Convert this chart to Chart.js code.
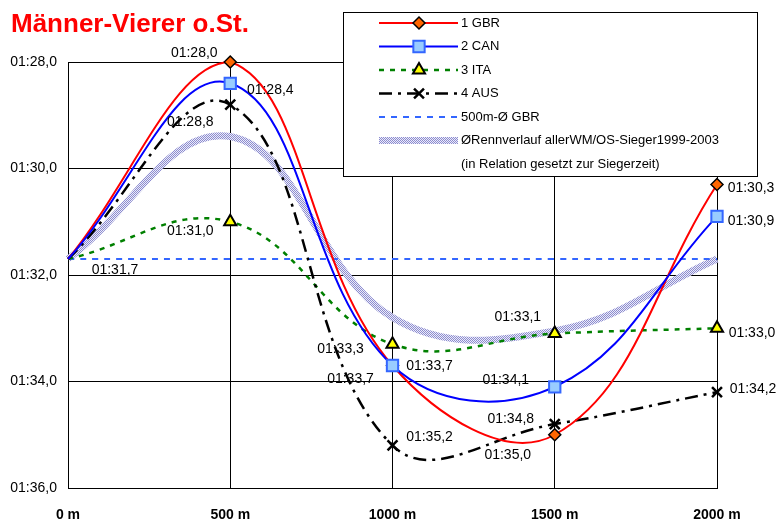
<!DOCTYPE html>
<html>
<head>
<meta charset="utf-8">
<script src="https://cdn.jsdelivr.net/npm/chart.js@4/dist/chart.umd.min.js"></script>
<style>
  html, body { margin: 0; padding: 0; background: #fff; }
  #wrap { width: 778px; height: 523px; }
</style>
</head>
<body>
<div id="wrap"><canvas id="c" width="778" height="523"></canvas></div>
<script>
// Zwischenzeiten (Sekunden pro 500 m)
const distances = ['0 m', '500 m', '1000 m', '1500 m', '2000 m'];
const gbr = [91.7, 88.0, 93.7, 95.0, 90.3];
const can = [91.7, 88.4, 93.7, 94.1, 90.9];
const ita = [91.7, 91.0, 93.3, 93.1, 93.0];
const aus = [91.7, 88.8, 95.2, 94.8, 94.2];
const gbrAvg500 = [91.7, 91.7, 91.7, 91.7, 91.7];
const winnersAvg = [91.7, 89.4, 92.8, 93.05, 91.7];
const yTicks = [88, 90, 92, 94, 96];

const FONT = '"Liberation Sans", Arial, sans-serif';

// label offsets (px, from the point) per dataset
const labelOffsets = [
  [null, [40, 7], [37, 1], [-49, -7], [34, 5]],      // CAN
  [null, [-36, -9], [-42, 14], [-47, 20], [34, 4]],  // GBR
  [null, [-40, 9], [-52, 5], [-37, -16], [35, 5]],   // ITA
  [null, [-40, 18], [37, -8], [-44, -5], [36, -3]],  // AUS
  [[47, 11], null, null, null, null],               // 500m-Ø GBR
  [null, null, null, null, null]                     // Rennverlauf
];

function fmtTime(v) {
  const m = Math.floor(v / 60);
  const s = (v - m * 60).toFixed(1).padStart(4, '0').replace('.', ',');
  return '0' + m + ':' + s;
}

// hatched band like the Excel pattern line
function makeHatch() {
  const p = document.createElement('canvas');
  p.width = 2; p.height = 2;
  const pc = p.getContext('2d');
  pc.fillStyle = '#ececf8';
  pc.fillRect(0, 0, 2, 2);
  pc.fillStyle = '#8c8cd0';
  pc.fillRect(0, 0, 1, 1);
  pc.fillRect(1, 1, 1, 1);
  return pc.createPattern(p, 'repeat');
}
const hatch = makeHatch();

const noFirst = r => ctx => ctx.dataIndex === 0 ? 0 : r;

const datasets = [
  { label: '2 CAN', data: can, order: 0, borderColor: '#0000ff', borderWidth: 2,
    pointStyle: 'rect', pointRadius: noFirst(8), pointBackgroundColor: '#99ccff',
    pointBorderColor: '#3366ff', pointBorderWidth: 2 },
  { label: '1 GBR', data: gbr, order: 1, borderColor: '#ff0000', borderWidth: 2,
    pointStyle: 'rectRot', pointRadius: noFirst(6), pointBackgroundColor: '#ff6600',
    pointBorderColor: '#000', pointBorderWidth: 1.5 },
  { label: '3 ITA', data: ita, order: 3, borderColor: '#008000', borderWidth: 2.5, borderDash: [5, 6],
    pointStyle: 'triangle', pointRadius: noFirst(7), pointBackgroundColor: '#ffff00',
    pointBorderColor: '#000', pointBorderWidth: 2 },
  { label: '4 AUS', data: aus, order: 2, borderColor: '#000', borderWidth: 2.5, borderDash: [13, 6, 3, 6],
    pointStyle: 'crossRot', pointRadius: noFirst(7), pointBorderColor: '#000', pointBorderWidth: 2.5 },
  { label: '500m-Ø GBR', data: gbrAvg500, order: 4, borderColor: '#3366ff', borderWidth: 2, borderDash: [6, 6],
    pointRadius: 0 },
  { label: 'ØRennverlauf allerWM/OS-Sieger1999-2003', data: winnersAvg, order: 5,
    borderColor: hatch, borderWidth: 7, pointRadius: 0 }
];

const labelsPlugin = {
  id: 'pointLabels',
  afterDatasetsDraw(chart) {
    const ctx = chart.ctx;
    ctx.save();
    ctx.font = '14px ' + FONT;
    ctx.fillStyle = '#000';
    ctx.textAlign = 'center';
    ctx.textBaseline = 'middle';
    chart.data.datasets.forEach((ds, i) => {
      const meta = chart.getDatasetMeta(i);
      meta.data.forEach((pt, j) => {
        const off = labelOffsets[i][j];
        if (!off) return;
        ctx.fillText(fmtTime(ds.data[j]), pt.x + off[0], pt.y + off[1]);
      });
    });
    ctx.restore();
  }
};

const legendPlugin = {
  id: 'boxLegend',
  afterDraw(chart) {
    const ctx = chart.ctx;
    const bx = 343, by = 12, bw = 414, bh = 164;
    ctx.save();
    ctx.fillStyle = '#fff';
    ctx.fillRect(bx, by, bw, bh);
    ctx.strokeStyle = '#000';
    ctx.lineWidth = 1;
    ctx.strokeRect(bx + 0.5, by + 0.5, bw, bh);

    const order = [1, 0, 2, 3, 4, 5];
    const x0 = 379, x1 = 458, xm = 419;
    order.forEach((di, row) => {
      const ds = datasets[di];
      const y = 23 + row * 23.5;
      ctx.save();
      ctx.strokeStyle = ds.borderColor;
      ctx.lineWidth = ds.borderWidth;
      ctx.setLineDash(ds.borderDash || []);
      ctx.beginPath();
      ctx.moveTo(x0, y);
      ctx.lineTo(x1, y);
      ctx.stroke();
      ctx.restore();
      if (ds.pointStyle) {
        ctx.save();
        ctx.fillStyle = ds.pointBackgroundColor || '#000';
        ctx.strokeStyle = ds.pointBorderColor;
        ctx.lineWidth = ds.pointBorderWidth;
        Chart.helpers.drawPoint(ctx, {
          pointStyle: ds.pointStyle,
          radius: ds.pointRadius({ dataIndex: 1 }),
          rotation: 0,
          borderWidth: ds.pointBorderWidth
        }, xm, y);
        ctx.restore();
      }
      ctx.font = '13px ' + FONT;
      ctx.fillStyle = '#000';
      ctx.textAlign = 'left';
      ctx.textBaseline = 'middle';
      ctx.fillText(ds.label, 461, y);
    });
    ctx.font = '13px ' + FONT;
    ctx.fillText('(in Relation gesetzt zur Siegerzeit)', 461, 164);

    // title
    ctx.font = 'bold 26px ' + FONT;
    ctx.fillStyle = '#ff0000';
    ctx.textAlign = 'left';
    ctx.textBaseline = 'alphabetic';
    ctx.fillText('Männer-Vierer o.St.', 11, 32);
    ctx.restore();
  }
};

new Chart(document.getElementById('c'), {
  type: 'line',
  data: { labels: distances, datasets: datasets },
  options: {
    responsive: false,
    animation: false,
    layout: { padding: { top: 62, right: 61, left: 0, bottom: 0 } },
    datasets: { line: { clip: false } },
    elements: { line: { tension: 0.4, fill: false, capBezierPoints: true } },
    plugins: { legend: { display: false }, tooltip: { enabled: false }, title: { display: false } },
    scales: {
      x: {
        offset: false,
        afterFit: s => { s.height = 35; },
        grid: { color: '#000', lineWidth: 1, drawTicks: false },
        border: { color: '#000', width: 1 },
        ticks: { color: '#000', padding: 19, maxRotation: 0, font: { family: FONT, size: 14, weight: 'bold' } }
      },
      y: {
        reverse: true,
        min: yTicks[0],
        max: yTicks[yTicks.length - 1],
        afterFit: s => { s.width = 68; },
        afterBuildTicks: s => { s.ticks = yTicks.map(v => ({ value: v })); },
        grid: { color: '#000', lineWidth: 1, drawTicks: false },
        border: { color: '#000', width: 1 },
        ticks: { color: '#000', padding: 11, font: { family: FONT, size: 14 }, callback: v => fmtTime(v) }
      }
    }
  },
  plugins: [labelsPlugin, legendPlugin]
});
</script>
</body>
</html>
